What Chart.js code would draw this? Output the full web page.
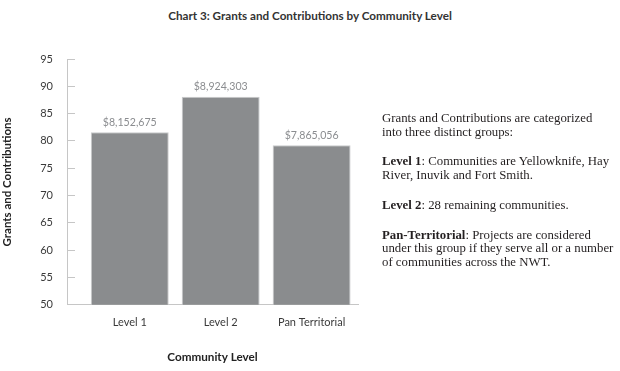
<!DOCTYPE html>
<html>
<head>
<meta charset="utf-8">
<script src="https://cdn.jsdelivr.net/npm/chart.js@4.4.0/dist/chart.umd.min.js"></script>
<style>
  html, body { margin: 0; padding: 0; background: #fff; }
  #wrap { position: relative; width: 620px; height: 371px; }
  #box { position: absolute; left: 0; top: 0; width: 620px; height: 371px; }
  .title { position: absolute; left: 0; top: 8px; width: 620px; text-align: center;
           font: bold 11.7px Lato, sans-serif; color: #333; }
  .note { position: absolute; left: 382px; top: 112px; width: 238px; white-space: nowrap;
          font: 12.8px/13.5px "Liberation Serif", serif; color: #231f20; }
  .note p { margin: 0 0 16.4px 0; }
</style>
</head>
<body>
<div id="wrap">
  <div class="title">Chart 3: Grants and Contributions by Community Level</div>
  <div id="box"><canvas id="bar-chart"></canvas></div>
  <div class="note">
    <p>Grants and Contributions are categorized<br>into three distinct groups:</p>
    <p><b>Level 1</b>: Communities are Yellowknife, Hay<br>River, Inuvik and Fort Smith.</p>
    <p><b>Level 2</b>: 28 remaining communities.</p>
    <p><b>Pan-Territorial</b>: Projects are considered<br>under this group if they serve all or a number<br>of communities across the NWT.</p>
  </div>
</div>
<script>
// data
var categories = ['Level 1', 'Level 2', 'Pan Territorial'];
var barValues = [81.6, 88.1, 79.2];
var amountLabels = ['$8,152,675', '$8,924,303', '$7,865,056'];
var yTicks = [50, 55, 60, 65, 70, 75, 80, 85, 90, 95];

Chart.defaults.font.family = 'Lato';
Chart.defaults.color = '#3a3a3a';

// amounts above the bars
var valueLabels = {
  id: 'valueLabels',
  afterDatasetsDraw: function(chart) {
    var ctx = chart.ctx;
    var meta = chart.getDatasetMeta(0);
    ctx.save();
    ctx.font = '10.6px Lato';
    ctx.fillStyle = '#8b8d90';
    ctx.textAlign = 'center';
    ctx.textBaseline = 'middle';
    meta.data.forEach(function(bar, i) {
      ctx.fillText(amountLabels[i], bar.x, bar.y - 10);
    });
    ctx.restore();
  }
};

var ctx = document.getElementById('bar-chart').getContext('2d');
new Chart(ctx, {
  type: 'bar',
  data: {
    datasets: [{
      data: categories.map(function(c, i) { return { x: i, y: barValues[i] }; }),
      backgroundColor: '#8a8c8e',
      borderColor: '#c9cacc',
      borderWidth: 1,
      barPercentage: 0.857,
      categoryPercentage: 1
    }]
  },
  options: {
    responsive: true,
    maintainAspectRatio: false,
    animation: false,
    layout: { padding: { top: 59, right: 262, bottom: 5, left: 0 } },
    plugins: {
      legend: { display: false },
      tooltip: { enabled: false }
    },
    scales: {
      x: {
        type: 'linear',
        offset: false,
        min: -0.69,
        max: 2.51,
        ticks: {
          stepSize: 1,
          includeBounds: false,
          padding: 11,
          font: { size: 11 },
          callback: function(v) { return Number.isInteger(v) ? categories[v] : ''; }
        },
        grid: { display: false, drawTicks: false },
        border: { color: '#c6c6c6', width: 1 },
        title: { display: true, text: 'Community Level', font: { size: 11.7, weight: 'bold' },
                 color: '#222', padding: { top: 10, bottom: 2 } }
      },
      y: {
        min: 50,
        max: 95,
        afterBuildTicks: function(scale) {
          scale.ticks = yTicks.map(function(v) { return { value: v }; });
        },
        afterFit: function(scale) { scale.width = 67; },
        ticks: { padding: 22, font: { size: 11 } },
        grid: { drawOnChartArea: false, tickLength: -8, color: '#c6c6c6' },
        border: { color: '#c6c6c6', width: 1 },
        title: { display: true, text: 'Grants and Contributions', font: { size: 11.5, weight: 'bold' },
                 color: '#222', padding: 0 }
      }
    }
  },
  plugins: [valueLabels]
});
</script>
</body>
</html>
